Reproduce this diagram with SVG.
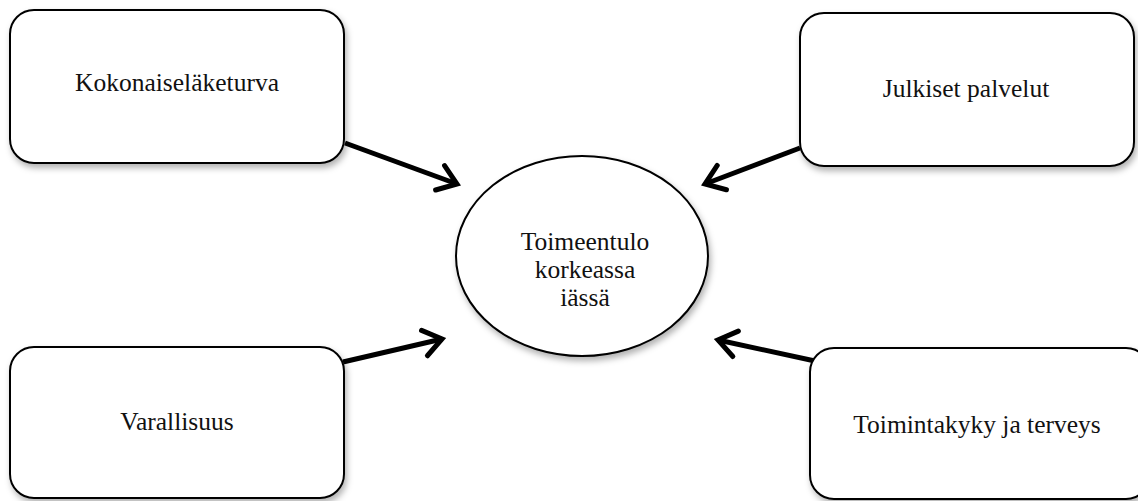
<svg xmlns="http://www.w3.org/2000/svg" width="1138" height="501" viewBox="0 0 1138 501">
  <style>
    .box { fill: #ffffff; stroke: #000000; stroke-width: 2; filter: url(#shadow); }
    .lbl { font-family: "Liberation Serif", "Times New Roman", serif; font-size: 25.5px; fill: #111111; text-anchor: middle; }
    .conn { fill: none; stroke: #000000; stroke-width: 5; marker-end: url(#chev); }
  </style>
  <defs>
    <filter id="shadow" x="-10%" y="-10%" width="125%" height="130%">
      <feDropShadow dx="2" dy="4" stdDeviation="3" flood-color="#000000" flood-opacity="0.3"/>
    </filter>
    <marker id="chev" markerUnits="userSpaceOnUse" viewBox="-6 -20 32 40" refX="20" refY="0" markerWidth="32" markerHeight="40" orient="auto">
      <path d="M 2,-13 L 20,0 L 2,13" fill="none" stroke="#000000" stroke-width="5" stroke-linejoin="miter" stroke-linecap="round"/>
    </marker>
  </defs>
  <rect width="1138" height="501" fill="#ffffff"/>

  <g id="connectors">
    <path class="conn" d="M 345,143 L 457,184"/>
    <path class="conn" d="M 800,148 L 705,184"/>
    <path class="conn" d="M 343,362 L 442,339"/>
    <path class="conn" d="M 815,361 L 718,340"/>
  </g>

  <g id="node-kokonaislaketurva">
    <rect class="box" x="10" y="10" width="334" height="153" rx="24" ry="24"/>
    <text class="lbl" x="177" y="91">Kokonaiseläketurva</text>
  </g>

  <g id="node-julkiset">
    <rect class="box" x="800" y="13" width="334" height="153" rx="24" ry="24"/>
    <text class="lbl" x="966" y="97">Julkiset palvelut</text>
  </g>

  <g id="node-varallisuus">
    <rect class="box" x="10" y="347" width="334" height="151" rx="24" ry="24"/>
    <text class="lbl" x="177" y="430">Varallisuus</text>
  </g>

  <g id="node-toimintakyky">
    <rect class="box" x="810" y="348" width="340" height="151" rx="24" ry="24"/>
    <text class="lbl" x="977" y="433">Toimintakyky ja terveys</text>
  </g>

  <g id="node-toimeentulo">
    <ellipse class="box" cx="582" cy="256" rx="126" ry="100"/>
    <text class="lbl" x="585" y="250">Toimeentulo</text>
    <text class="lbl" x="585" y="278">korkeassa</text>
    <text class="lbl" x="585" y="306">iässä</text>
  </g>
</svg>
